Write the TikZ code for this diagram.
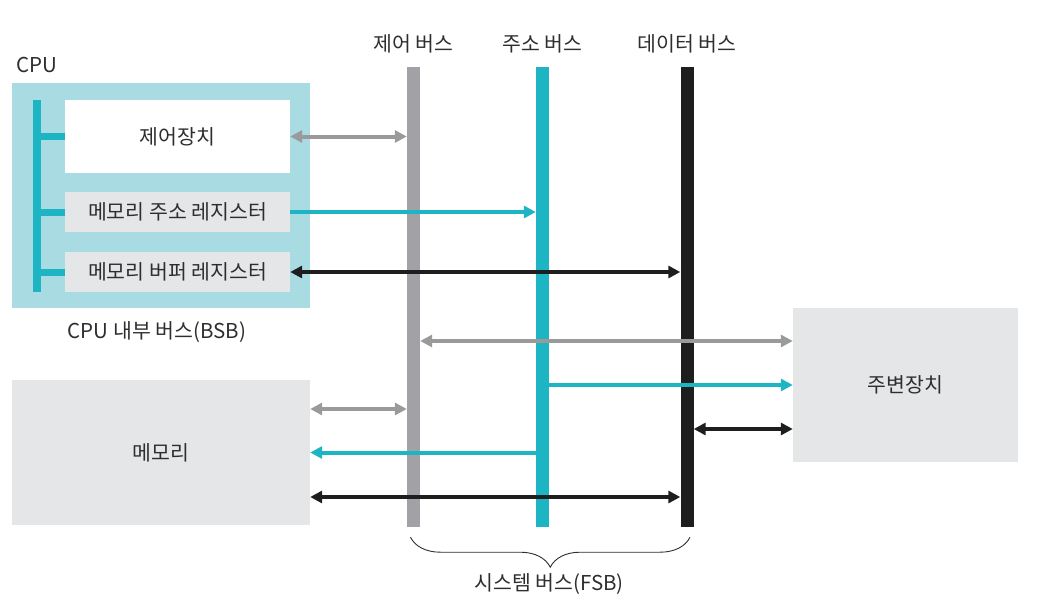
\documentclass[tikz,border=0pt]{standalone}
\usepackage{fontspec}
\setmainfont{Noto Sans CJK KR}
\usetikzlibrary{arrows.meta,decorations.pathreplacing}
\definecolor{cy}{HTML}{1DB4C4}
\definecolor{cylight}{HTML}{A8DBE2}
\definecolor{gbar}{HTML}{A2A2A6}
\definecolor{garr}{HTML}{9A9A9A}
\definecolor{blk}{HTML}{1E1E1E}
\definecolor{lgray}{HTML}{E5E6E7}
\definecolor{txt}{HTML}{2E2E2E}
\tikzset{
  lbl/.style={font=\fontsize{20.5}{22}\selectfont, text=txt, inner sep=0pt},
  boxn/.style={draw=none, inner sep=0pt, font=\fontsize{20.5}{22}\selectfont, text=txt},
  busn/.style={draw=none, inner sep=0pt, minimum width=13pt, minimum height=460pt},
  dbl/.style={{Triangle[length=12pt,width=12pt]}-{Triangle[length=12pt,width=12pt]}},
  sgl/.style={-{Triangle[length=12pt,width=12pt]}},
  conn/.style={line width=4pt},
}
\begin{document}
\begin{tikzpicture}[x=1pt,y=-1pt]
\useasboundingbox (0,0) rectangle (1039,608);
% CPU
\node[boxn, fill=cylight, minimum width=298pt, minimum height=225pt] (cpu) at (161,195.5) {};
\node[lbl] (cpulbl) at (37,65) {CPU};
\node[boxn, fill=white, minimum width=225pt, minimum height=73pt] (cu) at (177.5,136.5) {제어장치};
\node[boxn, fill=lgray, minimum width=225pt, minimum height=40pt] (mar) at (177.5,212) {메모리 주소 레지스터};
\node[boxn, fill=lgray, minimum width=225pt, minimum height=40pt] (mbr) at (177.5,272) {메모리 버퍼 레지스터};
\node[boxn, fill=cy, minimum width=8pt, minimum height=192pt] (ib) at (37,196) {};
\draw[cy, line width=7pt] (ib.east |- cu.west) -- (cu.west);
\draw[cy, line width=7pt] (ib.east |- mar.west) -- (mar.west);
\draw[cy, line width=7pt] (ib.east |- mbr.west) -- (mbr.west);
\node[lbl] (bsb) at (157,332) {CPU 내부 버스(BSB)};
% memory and peripheral
\node[boxn, fill=lgray, minimum width=298pt, minimum height=145pt] (mem) at (161,452.5) {메모리};
\node[boxn, fill=lgray, minimum width=225pt, minimum height=154pt] (per) at (905.5,385) {주변장치};
% buses
\node[busn, fill=gbar] (gbus) at (413.5,297) {};
\node[busn, fill=cy] (cbus) at (542.5,297) {};
\node[busn, fill=blk] (dbus) at (687,297) {};
\node[lbl] (lg) at ([yshift=23pt]gbus.north) {제어 버스};
\node[lbl] (lc) at ([yshift=23pt]cbus.north) {주소 버스};
\node[lbl] (ld) at ([yshift=23pt]dbus.north) {데이터 버스};
% named points
\coordinate (pg) at ([yshift=44pt]per.west);
\coordinate (pd) at ([yshift=-44pt]per.west);
\coordinate (mg) at ([yshift=43.5pt]mem.east);
\coordinate (md) at ([yshift=-44.5pt]mem.east);
% arrows from CPU
\draw[conn, garr, dbl] (cu.east) -- (cu.east -| gbus.west);
\draw[conn, cy, sgl] (mar.east) -- (mar.east -| cbus.west);
\draw[conn, blk, dbl] (mbr.east) -- (mbr.east -| dbus.west);
% peripheral arrows
\draw[conn, garr, dbl] (pg -| gbus.east) -- (pg);
\draw[conn, cy, sgl] (per.west -| cbus.east) -- (per.west);
\draw[conn, blk, dbl] (pd -| dbus.east) -- (pd);
% memory arrows
\draw[conn, garr, dbl] (mg) -- (mg -| gbus.west);
\draw[conn, cy, sgl] (mem.east -| cbus.west) -- (mem.east);
\draw[conn, blk, dbl] (md) -- (md -| dbus.west);
% brace
\draw[txt, line width=0.9pt, decorate, decoration={brace, mirror, amplitude=30pt}]
  ([xshift=-3pt,yshift=-10pt]gbus.south) -- ([xshift=3pt,yshift=-10pt]dbus.south);
\node[lbl] (fsb) at (549,584) {시스템 버스(FSB)};
\end{tikzpicture}
\end{document}
